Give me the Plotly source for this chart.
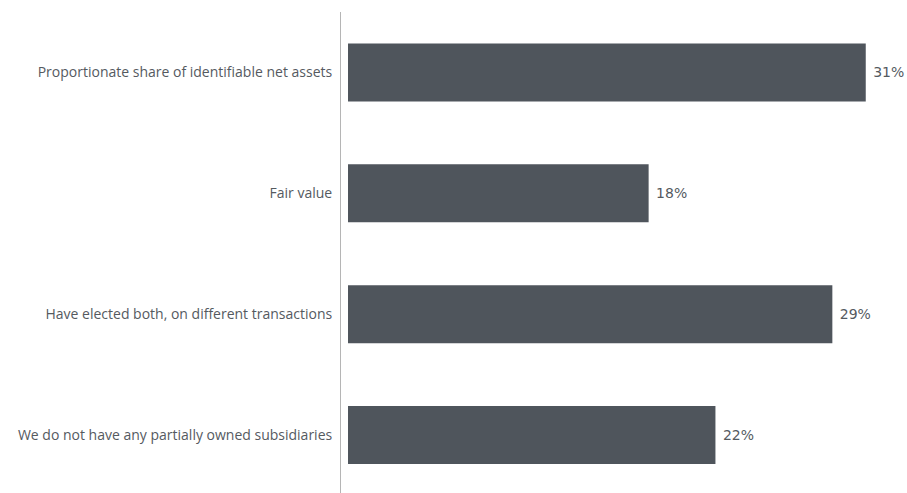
import plotly.graph_objects as go

categories = [
    "Proportionate share of identifiable net assets",
    "Fair value",
    "Have elected both, on different transactions",
    "We do not have any partially owned subsidiaries",
]
values = [31, 18, 29, 22]
labels = [f"\u00a0{v}%" for v in values]

BAR_COLOR = "#4f555c"
TEXT_COLOR = "#555a5f"

fig = go.Figure(go.Bar(
    x=values, y=categories, orientation="h",
    marker=dict(color=BAR_COLOR, line=dict(width=0)),
    width=0.48,
    text=labels, textposition="outside", cliponaxis=False,
    textfont=dict(family="DejaVu Sans", size=14, color=TEXT_COLOR),
))

fig.update_layout(
    width=907, height=493,
    margin=dict(l=341, r=0, t=12, b=0),
    paper_bgcolor="white", plot_bgcolor="white",
    showlegend=False,
    font=dict(family="Open Sans", size=14, color=TEXT_COLOR),
)
fig.update_xaxes(range=[-0.42, 33.47], visible=False, showgrid=False, zeroline=False)
fig.update_yaxes(
    autorange=False, range=[3.48, -0.5], type="category",
    showline=True, linecolor="#b5b5b5", linewidth=1,
    showgrid=False, zeroline=False, ticks="", ticklabelstandoff=5,
    tickfont=dict(family="Open Sans", size=14, color=TEXT_COLOR),
)

# drop the default page margin so the figure fills the window exactly
fig.write_html("out.html", config={"displayModeBar": False},
               post_script="document.body.style.margin='0';")
